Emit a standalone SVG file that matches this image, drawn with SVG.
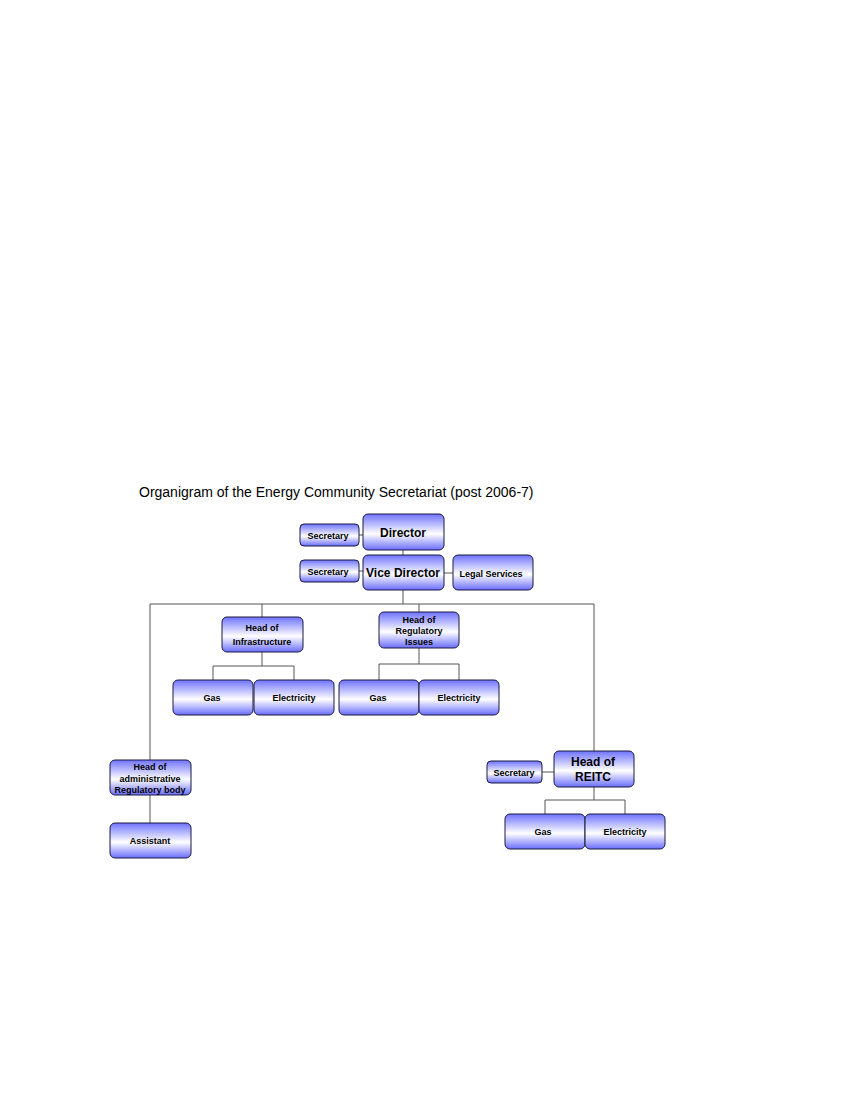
<svg xmlns="http://www.w3.org/2000/svg" width="850" height="1100" viewBox="0 0 850 1100">
<style>
.b{fill:url(#g);stroke:#1a1a40;stroke-width:1}
.t{font-family:"Liberation Sans",Arial,sans-serif;font-weight:bold;fill:#000;text-anchor:middle}
.c{stroke:#555;stroke-width:1;fill:none}
</style>
<defs>
<linearGradient id="g" x1="0" y1="0" x2="0" y2="1">
<stop offset="0" stop-color="#6f72ff"/>
<stop offset="0.55" stop-color="#ffffff"/>
<stop offset="1" stop-color="#6a6dff"/>
</linearGradient>
</defs>
<rect width="850" height="1100" fill="#fff"/>
<text x="139" y="497" font-family="Liberation Sans,Arial,sans-serif" font-size="14">Organigram of the Energy Community Secretariat (post 2006-7)</text>
<g id="connectors" class="c">
<path d="M359 535H363M359 571H363M444 573H453M403 550V555M403 590V604M150 604H594M262 604V617M419 604V612M150 604V760M150 795V823M594 604V751M542 772H554"/>
<path d="M262 652V666M213 666H294M213 666V680M294 666V680"/>
<path d="M419 648V664M379 664H459M379 664V680M459 664V680"/>
<path d="M594 787V800M545 800H625M545 800V814M625 800V814"/>
</g>
<g id="director"><rect class="b" x="363" y="514" width="81" height="36" rx="5"/><text class="t" x="403" y="537" font-size="12">Director</text></g>
<g id="sec1"><rect class="b" x="300" y="524" width="59" height="22" rx="4"/><text class="t" x="328" y="539" font-size="9">Secretary</text></g>
<g id="vice"><rect class="b" x="363" y="555" width="81" height="35" rx="5"/><text class="t" x="403" y="577" font-size="12">Vice Director</text></g>
<g id="sec2"><rect class="b" x="300" y="560" width="59" height="22" rx="4"/><text class="t" x="328" y="575" font-size="9">Secretary</text></g>
<g id="legal"><rect class="b" x="453" y="555" width="80" height="35" rx="5"/><text class="t" x="491" y="577" font-size="9">Legal Services</text></g>
<g id="infra"><rect class="b" x="222" y="617" width="81" height="35" rx="5"/><text class="t" x="262" y="631" font-size="9">Head of</text><text class="t" x="262" y="645" font-size="9">Infrastructure</text></g>
<g id="reg"><rect class="b" x="379" y="612" width="80" height="36" rx="5"/><text class="t" x="419" y="623" font-size="9">Head of</text><text class="t" x="419" y="634" font-size="9">Regulatory</text><text class="t" x="419" y="645" font-size="9">Issues</text></g>
<g id="gas1"><rect class="b" x="173" y="680" width="80" height="35" rx="5"/><text class="t" x="212" y="701" font-size="9">Gas</text></g>
<g id="el1"><rect class="b" x="254" y="680" width="80" height="35" rx="5"/><text class="t" x="294" y="701" font-size="9">Electricity</text></g>
<g id="gas2"><rect class="b" x="339" y="680" width="80" height="35" rx="5"/><text class="t" x="378" y="701" font-size="9">Gas</text></g>
<g id="el2"><rect class="b" x="419" y="680" width="80" height="35" rx="5"/><text class="t" x="459" y="701" font-size="9">Electricity</text></g>
<g id="admin"><rect class="b" x="110" y="760" width="81" height="35" rx="5"/><text class="t" x="150" y="770" font-size="9">Head of</text><text class="t" x="150" y="782" font-size="9">administrative</text><text class="t" x="150" y="793" font-size="9">Regulatory body</text></g>
<g id="assistant"><rect class="b" x="110" y="823" width="81" height="35" rx="5"/><text class="t" x="150" y="844" font-size="9">Assistant</text></g>
<g id="reitc"><rect class="b" x="554" y="751" width="80" height="36" rx="5"/><text class="t" x="593" y="766" font-size="12">Head of</text><text class="t" x="593" y="781" font-size="12">REITC</text></g>
<g id="sec3"><rect class="b" x="487" y="761" width="55" height="22" rx="4"/><text class="t" x="514" y="776" font-size="9">Secretary</text></g>
<g id="gas3"><rect class="b" x="505" y="814" width="80" height="35" rx="5"/><text class="t" x="543" y="835" font-size="9">Gas</text></g>
<g id="el3"><rect class="b" x="585" y="814" width="80" height="35" rx="5"/><text class="t" x="625" y="835" font-size="9">Electricity</text></g>
</svg>
